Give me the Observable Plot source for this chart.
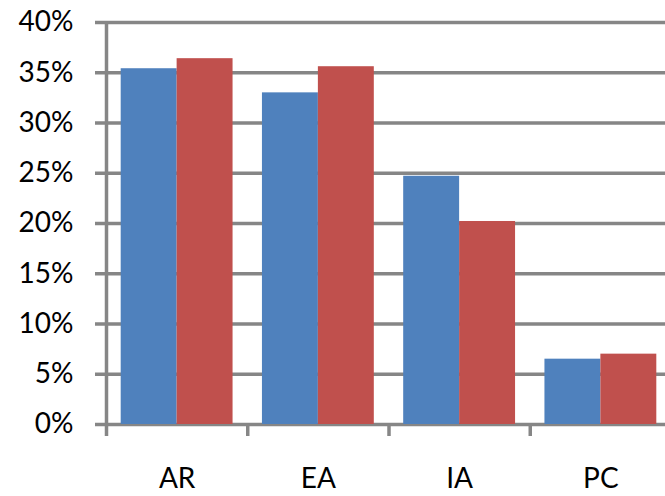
<!DOCTYPE html>
<html><head><meta charset="utf-8">
<script src="https://cdn.jsdelivr.net/npm/d3@7"></script>
<script src="https://cdn.jsdelivr.net/npm/@observablehq/plot@0.6"></script>
<style>html,body{margin:0;padding:0;background:#fff;overflow:hidden}</style>
</head><body><div id="chart"></div>
<script>
const categories = ["AR", "EA", "IA", "PC"];
const seriesNames = ["Series 1", "Series 2"];
const series1 = [35.4, 33.0, 24.7, 6.5];
const series2 = [36.4, 35.6, 20.2, 7.0];
const yTicks = [0, 5, 10, 15, 20, 25, 30, 35, 40];
const colors = ["#4F81BD", "#C0504D"];

// category slot i spans [i, i+1]; the group of two bars is centred in it
const groupPad = 0.104;
const bars = categories.flatMap((c, i) => [
  {category: c, series: seriesNames[0], value: series1[i], x1: i + groupPad, x2: i + 0.5},
  {category: c, series: seriesNames[1], value: series2[i], x1: i + 0.5, x2: i + 1 - groupPad}
]);
const boundaries = d3.range(categories.length + 1);
const centers = categories.map((c, i) => i + 0.5);
const grid = "#868686";

const chart = Plot.plot({
  width: 665, height: 496,
  marginLeft: 106, marginRight: -6, marginTop: 22, marginBottom: 72,
  style: {fontFamily: "Lato, 'Open Sans', sans-serif", fontSize: "28px", color: "#000", background: "#fff"},
  x: {domain: [0, categories.length], axis: null},
  y: {domain: [0, 40], axis: null},
  color: {domain: seriesNames, range: colors},
  marks: [
    Plot.ruleY(yTicks, {stroke: grid, strokeWidth: 3.5}),
    Plot.rectY(bars, {x1: "x1", x2: "x2", y: "value", fill: "series"}),
    Plot.ruleX([0], {y1: 0, y2: 40, stroke: grid, strokeWidth: 3.5}),
    Plot.axisY(yTicks, {tickSize: 11, tickPadding: 22, stroke: grid, strokeWidth: 3.5,
      tickFormat: d => d + "%", fill: "#000", fontSize: 28, label: null}),
    Plot.axisX(boundaries, {tickSize: 12, stroke: grid, strokeWidth: 3.5, tickFormat: () => "", label: null}),
    Plot.axisX(centers, {tickSize: 0, tickPadding: 44, fontSize: 28, fill: "#000",
      tickFormat: d => categories[Math.floor(d)], label: null})
  ]
});
document.getElementById("chart").appendChild(chart);
</script>
</body></html>
